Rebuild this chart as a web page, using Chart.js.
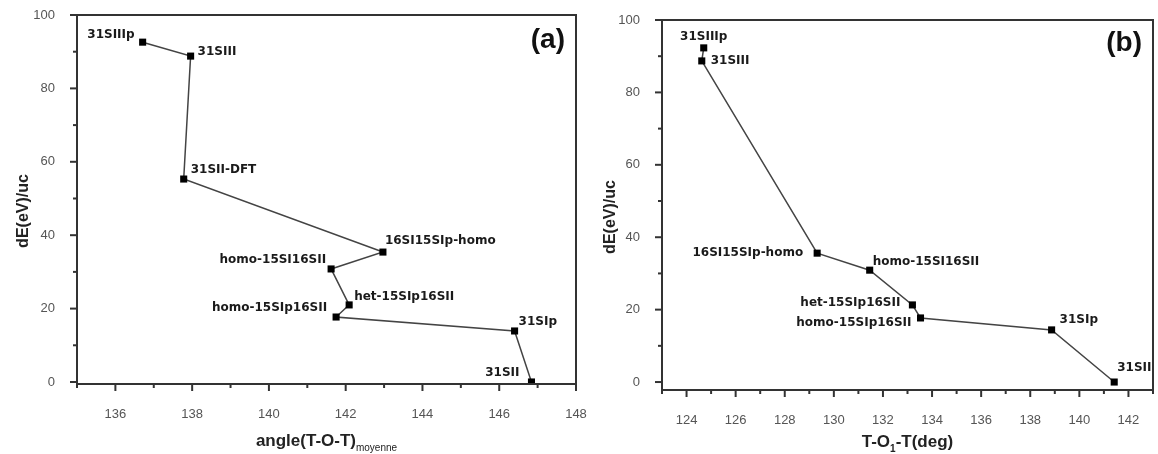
<!DOCTYPE html>
<html>
<head>
<meta charset="utf-8">
<script src="https://cdn.jsdelivr.net/npm/chart.js@4/dist/chart.umd.min.js"></script>
<style>
  body { margin: 0; background: #fff; }
  .panel { position: absolute; top: 0; height: 454px; }
  #boxA { left: 0; width: 600px; }
  #boxB { left: 580px; width: 578px; }
</style>
</head>
<body>
<div class="panel" id="boxA"><canvas id="chartA"></canvas></div>
<div class="panel" id="boxB"><canvas id="chartB"></canvas></div>
<script>
// panel (a): dE vs mean T-O-T angle
const aNames = ['31SIIIp', '31SIII', '31SII-DFT', '16SI15SIp-homo', 'homo-15SI16SII', 'het-15SIp16SII', 'homo-15SIp16SII', '31SIp', '31SII'];
const aAngle = [136.71, 137.96, 137.78, 142.97, 141.62, 142.09, 141.75, 146.40, 146.84];
const aEnergy = [92.6, 88.8, 55.3, 35.4, 30.8, 21.0, 17.7, 13.9, 0.0];

// panel (b): dE vs T-O1-T angle
const bNames = ['31SIIIp', '31SIII', '16SI15SIp-homo', 'homo-15SI16SII', 'het-15SIp16SII', 'homo-15SIp16SII', '31SIp', '31SII'];
const bAngle = [124.70, 124.62, 129.32, 131.46, 133.20, 133.53, 138.87, 141.42];
const bEnergy = [92.3, 88.7, 35.6, 30.9, 21.3, 17.7, 14.4, 0.0];

// ticks (odd x / non-multiple-of-20 y are minor, unlabeled)
const aXTicks = [135, 136, 137, 138, 139, 140, 141, 142, 143, 144, 145, 146, 147, 148];
const bXTicks = [123, 124, 125, 126, 127, 128, 129, 130, 131, 132, 133, 134, 135, 136, 137, 138, 139, 140, 141, 142, 143];
const yTicks = [0, 10, 20, 30, 40, 50, 60, 70, 80, 90, 100];

// label placement relative to each point: [dx, dy, align]
const aLabelPos = [[-8, -7, 'right'], [7, -4, 'left'], [7, -9, 'left'], [2, -11, 'left'], [-5, -9, 'right'],
  [5, -8, 'left'], [-9, -9, 'right'], [4, -9, 'left'], [-12, -9, 'right']];
const bLabelPos = [[0, -11, 'center'], [9, 0, 'left'], [-14, 0, 'right'], [3, -8, 'left'], [-12, -2, 'right'],
  [-9, 5, 'right'], [8, -10, 'left'], [3, -14, 'left']];

Chart.defaults.font.family = '"Liberation Sans", Arial, sans-serif';
Chart.defaults.color = '#444';

const deco = {
  id: 'deco',
  afterDraw(chart, args, o) {
    const { ctx, chartArea: a, scales: { x, y } } = chart;
    ctx.save();
    ctx.strokeStyle = '#333';
    ctx.lineWidth = 2;
    x.ticks.forEach(t => {
      const px = x.getPixelForValue(t.value);
      const len = t.value % 2 === 0 ? 7 : 4;
      ctx.beginPath(); ctx.moveTo(px, a.bottom); ctx.lineTo(px, a.bottom + len); ctx.stroke();
    });
    y.ticks.forEach(t => {
      const py = y.getPixelForValue(t.value);
      const len = t.value % 20 === 0 ? 7 : 4;
      ctx.beginPath(); ctx.moveTo(a.left, py); ctx.lineTo(a.left - len, py); ctx.stroke();
    });
    ctx.strokeRect(a.left, a.top, a.right - a.left, a.bottom - a.top);

    // point labels
    const meta = chart.getDatasetMeta(0);
    ctx.fillStyle = '#1a1a1a';
    ctx.font = 'bold 12px "DejaVu Sans", sans-serif';
    ctx.textBaseline = 'middle';
    meta.data.forEach((pt, i) => {
      const [dx, dy, al] = o.labelPos[i];
      ctx.textAlign = al;
      ctx.fillText(o.names[i], pt.x + dx, pt.y + dy);
    });

    // panel letter
    ctx.font = 'bold 28px "Liberation Sans", Arial, sans-serif';
    ctx.textAlign = 'right';
    ctx.fillStyle = '#111';
    ctx.fillText(o.letter, a.right - 11, a.top + o.letterDy);

    // y title
    ctx.save();
    ctx.translate(o.yTitleX, o.yTitleY);
    ctx.rotate(-Math.PI / 2);
    ctx.textAlign = 'center';
    ctx.font = 'bold 16px "Liberation Sans", Arial, sans-serif';
    ctx.fillStyle = '#222';
    ctx.fillText('dE(eV)/uc', 0, 0);
    ctx.restore();

    // x title with subscript
    const big = 'bold 17px "Liberation Sans", Arial, sans-serif';
    const small = o.subBold ? 'bold 10px "Liberation Sans", Arial, sans-serif' : '10px "Liberation Sans", Arial, sans-serif';
    ctx.textAlign = 'left';
    ctx.textBaseline = 'alphabetic';
    ctx.fillStyle = '#222';
    let w = 0;
    o.xTitle.forEach(p => { ctx.font = p.sub ? small : big; w += ctx.measureText(p.t).width; });
    let cx = (a.left + a.right) / 2 - w / 2;
    const base = o.xTitleY;
    o.xTitle.forEach(p => {
      ctx.font = p.sub ? small : big;
      ctx.fillText(p.t, cx, p.sub ? base + 5 : base);
      cx += ctx.measureText(p.t).width;
    });
    ctx.restore();
  }
};

function makeChart(id, names, xs, ys, xTicks, xMin, xMax, yMin, yAxisW, xAxisH, pad, deco_opts) {
  return new Chart(document.getElementById(id), {
    type: 'scatter',
    data: {
      datasets: [{
        data: xs.map((v, i) => ({ x: v, y: ys[i] })),
        showLine: true,
        borderColor: '#444',
        borderWidth: 1.5,
        pointStyle: 'rect',
        pointRadius: 5,
        pointBackgroundColor: '#000',
        pointBorderColor: '#000',
        pointBorderWidth: 0
      }]
    },
    options: {
      responsive: true,
      maintainAspectRatio: false,
      animation: false,
      layout: { padding: pad },
      plugins: { legend: { display: false }, tooltip: { enabled: false }, deco: deco_opts },
      scales: {
        x: {
          type: 'linear', min: xMin, max: xMax,
          grid: { display: false }, border: { display: false },
          afterBuildTicks: s => { s.ticks = xTicks.map(v => ({ value: v })); },
          afterFit: s => { s.height = xAxisH; s.paddingLeft = 0; s.paddingRight = 0; },
          ticks: {
            padding: 15, maxRotation: 0, autoSkip: false,
            font: { size: 13 }, color: '#555',
            callback: v => (v % 2 === 0 ? String(v) : '')
          }
        },
        y: {
          type: 'linear', min: yMin, max: 100,
          grid: { display: false }, border: { display: false },
          afterBuildTicks: s => { s.ticks = yTicks.map(v => ({ value: v })); },
          afterFit: s => { s.width = yAxisW; s.paddingTop = 0; s.paddingBottom = 0; },
          ticks: {
            padding: 14, autoSkip: false,
            font: { size: 13 }, color: '#555',
            callback: v => (v % 20 === 0 ? String(v) : '')
          }
        }
      }
    },
    plugins: [deco]
  });
}

makeChart('chartA', aNames, aAngle, aEnergy, aXTicks, 135, 148, -0.55, 77, 70,
  { top: 15, right: 24, left: 0, bottom: 0 },
  { names: aNames, labelPos: aLabelPos, letter: '(a)', letterDy: 25, yTitleX: 24, yTitleY: 211,
    xTitle: [{ t: 'angle(T-O-T)' }, { t: 'moyenne', sub: true }], xTitleY: 446 });

makeChart('chartB', bNames, bAngle, bEnergy, bXTicks, 123, 143, -2.2, 82, 64,
  { top: 20, right: 2, left: 0, bottom: 0 },
  { names: bNames, labelPos: bLabelPos, letter: '(b)', letterDy: 23, yTitleX: 31, yTitleY: 217,
    xTitle: [{ t: 'T-O' }, { t: '1', sub: true, bold: true }, { t: '-T(deg)' }], xTitleY: 447, subBold: true });
</script>
</body>
</html>
